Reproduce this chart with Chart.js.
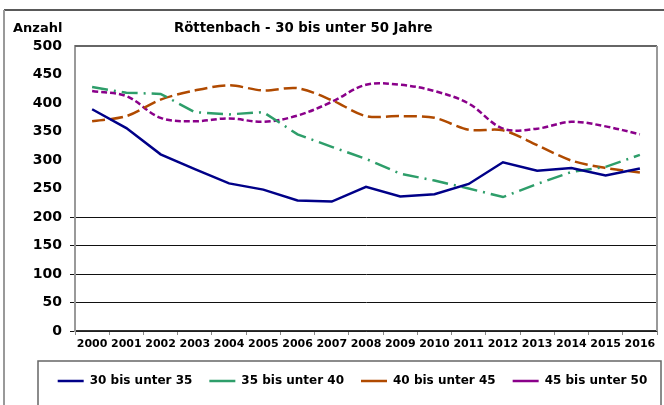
<!DOCTYPE html>
<html>
<head>
<meta charset="utf-8">
<script src="https://cdn.jsdelivr.net/npm/chart.js@4/dist/chart.umd.min.js"></script>
<style>
  body { margin: 0; background: #fff; }
  canvas { display: block; }
</style>
</head>
<body>
<canvas id="lineChart" width="664" height="405"></canvas>
<script>
// Data
var years = ["2000", "2001", "2002", "2003", "2004", "2005", "2006", "2007", "2008",
             "2009", "2010", "2011", "2012", "2013", "2014", "2015", "2016"];
var seriesNames = ["30 bis unter 35", "35 bis unter 40", "40 bis unter 45", "45 bis unter 50"];
var age30to35 = [389, 356, 310, 284, 259, 248, 229, 227, 253, 236, 240, 258, 296, 281, 286, 273, 285];
var age35to40 = [428, 418, 416, 384, 380, 384, 345, 323, 302, 276, 264, 250, 235, 258, 279, 288, 309];
var age40to45 = [368, 377, 406, 422, 431, 422, 426, 405, 377, 377, 374, 353, 352, 326, 299, 286, 278];
var age45to50 = [421, 412, 374, 368, 373, 367, 378, 402, 432, 432, 421, 399, 355, 355, 367, 359, 345];
var yTicks = [0, 50, 100, 150, 200, 250, 300, 350, 400, 450, 500];

var titleText = "Röttenbach - 30 bis unter 50 Jahre";
var yAxisText = "Anzahl";

Chart.defaults.font.family = "'DejaVu Sans', sans-serif";
Chart.defaults.color = "#000";

// Frames, plot border and the two titles
var framePlugin = {
    id: 'frame',
    afterLayout: function (chart) {
        // legend row sits a little right of centre in the original
        chart.legend.left += 24;
        chart.legend.right += 24;
    },
    beforeDraw: function (chart) {
        var c = chart.ctx;
        c.save();
        c.fillStyle = '#fff';
        c.fillRect(0, 0, chart.width, chart.height);
        c.strokeStyle = '#222';
        c.lineWidth = 1.5;
        c.beginPath(); c.moveTo(4, 10); c.lineTo(chart.width, 10); c.stroke();
        c.strokeStyle = '#999';
        c.lineWidth = 2;
        c.beginPath(); c.moveTo(4, 10); c.lineTo(4, chart.height); c.stroke();
        c.restore();
    },
    afterDraw: function (chart) {
        var a = chart.chartArea;
        var c = chart.ctx;
        c.save();
        // top and right edge of the plot area
        c.strokeStyle = '#666';
        c.lineWidth = 2;
        c.beginPath(); c.moveTo(a.left, a.top); c.lineTo(a.right, a.top); c.stroke();
        c.strokeStyle = '#999';
        c.beginPath(); c.moveTo(a.right, a.top); c.lineTo(a.right, a.bottom); c.stroke();
        // box round the legend
        c.strokeStyle = '#666';
        c.lineWidth = 1.5;
        c.strokeRect(38, 361, 623, 60);
        // texts
        c.fillStyle = '#000';
        c.font = "bold 13px 'DejaVu Sans'";
        c.textBaseline = 'alphabetic';
        c.textAlign = 'left';
        c.fillText(yAxisText, 13, 31.5);
        c.font = "bold 13.3px 'DejaVu Sans'";
        c.fillText(titleText, 174, 32);
        c.restore();
    }
};

var ctx = document.getElementById("lineChart").getContext('2d');
var myChart = new Chart(ctx, {
    type: 'line',
    data: {
        labels: years,
        datasets: [{
            label: seriesNames[0],
            data: age30to35,
            borderColor: '#000088',
            backgroundColor: '#000088',
            borderWidth: 2.5,
            tension: 0
        }, {
            label: seriesNames[1],
            data: age35to40,
            borderColor: '#2e9e6a',
            backgroundColor: '#2e9e6a',
            borderWidth: 2.5,
            borderDash: [16, 6, 2, 6],
            tension: 0
        }, {
            label: seriesNames[2],
            data: age40to45,
            borderColor: '#b04a00',
            backgroundColor: '#b04a00',
            borderWidth: 2.5,
            borderDash: [13, 5],
            tension: 0.3
        }, {
            label: seriesNames[3],
            data: age45to50,
            borderColor: '#8a008a',
            backgroundColor: '#8a008a',
            borderWidth: 2.5,
            borderDash: [6, 3],
            tension: 0.35
        }]
    },
    options: {
        responsive: false,
        devicePixelRatio: 1,
        animation: false,
        layout: {
            padding: { top: 46, left: 0, right: 7, bottom: 8 }
        },
        elements: {
            point: { radius: 0, hoverRadius: 0 }
        },
        scales: {
            x: {
                offset: true,
                afterFit: function (scale) { scale.height = 27; },
                grid: {
                    offset: true,
                    drawOnChartArea: false,
                    tickLength: 4,
                    color: '#888'
                },
                border: { color: '#333', width: 1.5 },
                ticks: {
                    autoSkip: false,
                    maxRotation: 0,
                    padding: 3,
                    font: { size: 11, weight: 'bold' }
                }
            },
            y: {
                min: 0,
                max: 500,
                afterFit: function (scale) { scale.width = 75; },
                afterBuildTicks: function (scale) {
                    scale.ticks = yTicks.map(function (v) { return { value: v }; });
                },
                grid: {
                    tickLength: 5,
                    lineWidth: 1,
                    color: function (c) {
                        return c.tick && c.tick.value <= 200 ? '#111' : 'rgba(0,0,0,0)';
                    }
                },
                border: { color: '#999', width: 2 },
                ticks: {
                    padding: 8,
                    font: { size: 14, weight: 'bold' }
                }
            }
        },
        plugins: {
            legend: {
                display: true,
                position: 'bottom',
                labels: {
                    usePointStyle: true,
                    pointStyle: 'line',
                    pointStyleWidth: 26,
                    padding: 17,
                    color: '#000',
                    font: { size: 12, weight: 'bold' }
                }
            },
            tooltip: { enabled: false }
        }
    },
    plugins: [framePlugin]
});
</script>
</body>
</html>
